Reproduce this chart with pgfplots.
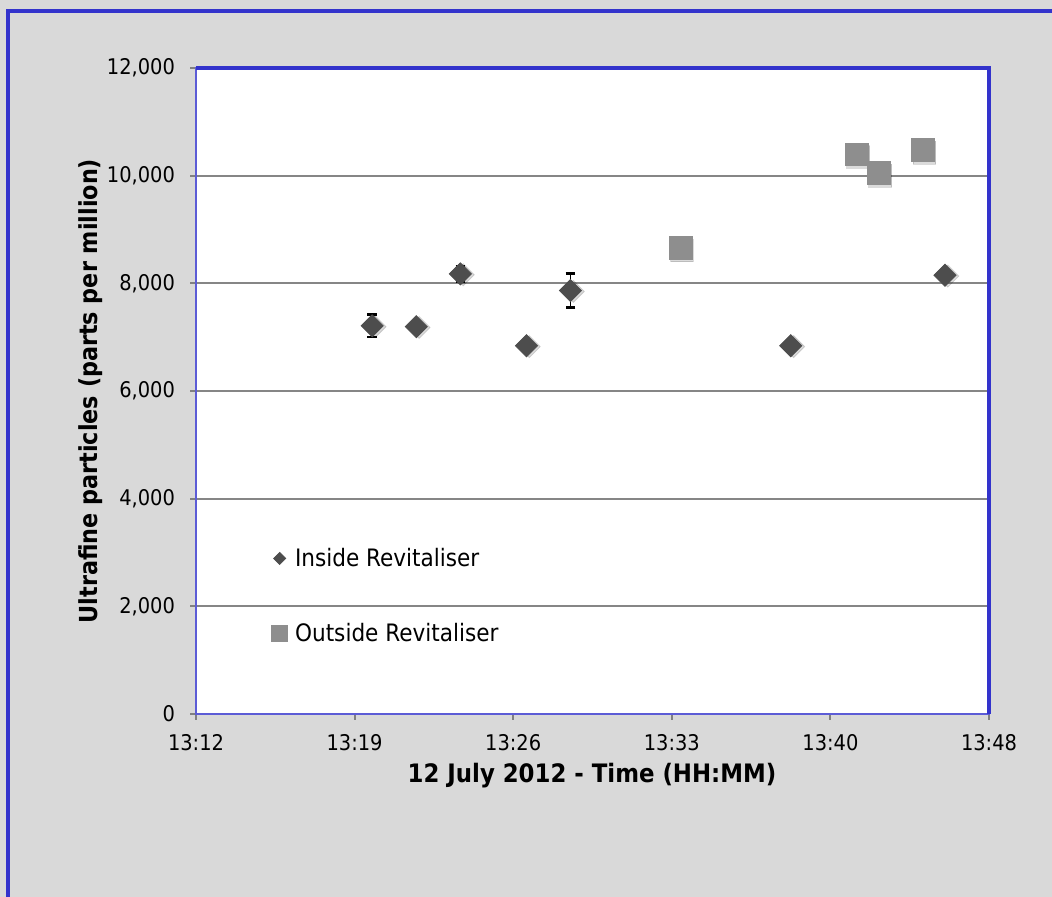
\documentclass[border=0pt]{standalone}
\usepackage{pgfplots}
\pgfplotsset{compat=1.18}
\usepackage{fontspec}
\setmainfont{DejaVu Sans Condensed}
\definecolor{bgC}{HTML}{D9D9D9}
\definecolor{blueC}{HTML}{3333CC}
\definecolor{insideC}{HTML}{4D4D4D}
\definecolor{outsideC}{HTML}{8E8E8E}
\definecolor{gridC}{HTML}{868686}
\definecolor{tickC}{HTML}{808080}

% minutes after 13:12
\pgfplotstableread{
x  y     e
8  7210  210
10 7195  0
12 8175  145
15 6840  0
17 7865  315
27 6840  0
34 8150  0
}\inside
\pgfplotstableread{
x  y
22 8660
30 10395
31 10045
33 10475
}\outside

\begin{document}
\begin{tikzpicture}
\useasboundingbox (0,0) rectangle (526pt,448.5pt);
\fill[bgC] (0,0) rectangle (526pt,448.5pt);
\draw[blueC, line width=1.8pt] (4pt,0) -- (4pt,443pt) -- (526pt,443pt);
\begin{axis}[
  at={(98pt,91.5pt)}, anchor=south west,
  scale only axis, width=396.5pt, height=323pt,
  xmin=0, xmax=36, ymin=0, ymax=12000,
  xtick={0,7.2,14.4,21.6,28.8,36},
  xticklabels={13:12,13:19,13:26,13:33,13:40,13:48},
  ytick={0,2000,...,12000},
  ymajorgrids, grid style={gridC, line width=1pt},
  axis background/.style={fill=white},
  axis line style={blueC!80, line width=0.7pt},
  tick align=outside, xtick pos=bottom, ytick pos=left,
  major tick length=3pt,
  tick style={tickC, line width=1pt},
  /pgf/number format/assume math mode=true,
  /pgf/number format/1000 sep={,},
  scaled y ticks=false,
  tick label style={font=\fontsize{10.8}{12}\selectfont, text=black},
  xticklabel style={yshift=-3.5pt},
  yticklabel style={xshift=-4pt},
  clip=false,
  legend cell align=left,
  legend style={draw=none, fill=none, at={(axis cs:3.4,2190)}, anchor=west,
    inner sep=0pt, font=\fontsize{12}{13}\selectfont, row sep=24pt,
    nodes={inner sep=1.5pt},
    /tikz/every odd column/.append style={column sep=2pt}},
]
% soft shadows
\addplot[only marks, forget plot, mark=square*, mark size=3.9pt,
  mark options={rotate=45, fill=black, draw=none, opacity=0.14, xshift=0.7pt, yshift=-1.3pt}]
  table[x=x,y=y]{\inside};
\addplot[only marks, forget plot, mark=square*, mark size=5.7pt,
  mark options={fill=black, draw=none, opacity=0.14, xshift=0.7pt, yshift=-1.3pt}]
  table[x=x,y=y]{\outside};
% series
\addplot[only marks, mark=square*, mark size=3.9pt,
  mark options={rotate=45, fill=insideC, draw=insideC},
  legend image code/.code={\fill[insideC] (0pt,-3pt) -- (3pt,0pt) -- (0pt,3pt) -- (-3pt,0pt) -- cycle;},
  error bars/.cd, y dir=both, y explicit,
  error bar style={black, line width=0.9pt},
  error mark options={rotate=90, black, line width=1.3pt, mark size=2.4pt}]
  table[x=x,y=y,y error=e]{\inside};
\addlegendentry{Inside Revitaliser}
\addplot[only marks, mark=square*, mark size=5.7pt,
  mark options={fill=outsideC, draw=outsideC},
  legend image code/.code={\fill[outsideC] (-4pt,-4pt) rectangle (4pt,4pt);}]
  table[x=x,y=y]{\outside};
\addlegendentry{Outside Revitaliser}
\end{axis}
\draw[blueC, line width=1.6pt] (98pt,414.5pt) -- (494.5pt,414.5pt) -- (494.5pt,91.5pt);
\node[rotate=90, font=\bfseries\fontsize{12.4}{14}\selectfont] at (45.5pt,253pt) {Ultrafine particles (parts per million)};
\node[font=\bfseries\fontsize{12.7}{14}\selectfont] at (296pt,60.5pt) {12 July 2012 - Time (HH:MM)};
\end{tikzpicture}
\end{document}
